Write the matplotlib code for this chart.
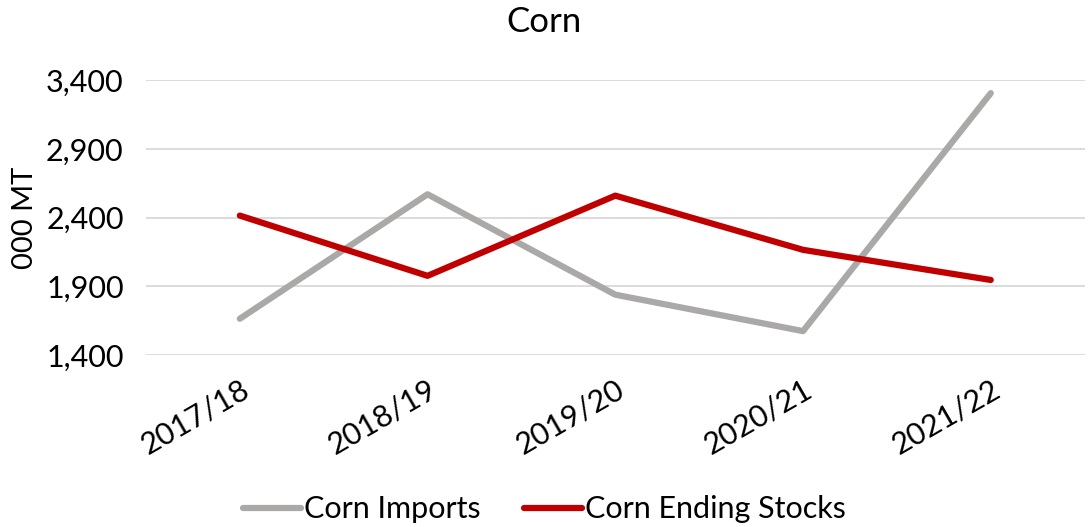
import matplotlib
matplotlib.use("Agg")
import matplotlib.pyplot as plt

plt.rcParams['font.family'] = ['Lato', 'DejaVu Sans']

years = ["2017/18", "2018/19", "2019/20", "2020/21", "2021/22"]
corn_imports = [1665, 2570, 1840, 1575, 3305]
corn_ending_stocks = [2415, 1977, 2560, 2166, 1947]
yticks = [1400, 1900, 2400, 2900, 3400]

fig = plt.figure(figsize=(10.89, 5.27), dpi=100)
ax = fig.add_axes([0.134, 0.326, 0.862, 0.522])

x = list(range(len(years)))
ax.plot(x, corn_imports, color="#ABA8A8", lw=4.5, solid_capstyle="round", solid_joinstyle="round", label="Corn Imports")
ax.plot(x, corn_ending_stocks, color="#C00000", lw=4.5, solid_capstyle="round", solid_joinstyle="round", label="Corn Ending Stocks")

ax.set_xlim(-0.5, len(years) - 0.5)
ax.set_ylim(1400, 3400)
ax.set_yticks(yticks)
ax.set_yticklabels([f"{v:,}" for v in yticks], fontsize=22)
ax.set_xticks(x)
ax.set_xticklabels(years, fontsize=22, rotation=30, ha="right", rotation_mode="anchor")
ax.tick_params(axis="both", length=0)
ax.tick_params(axis="y", pad=16)
ax.tick_params(axis="x", pad=14)
ax.grid(axis="y", color="#D9D9D9", lw=1.3)
ax.set_axisbelow(True)
for s in ax.spines.values():
    s.set_visible(False)
ax.set_ylabel("000 MT", fontsize=21, labelpad=6)
fig.text(0.5, 0.958, "Corn", fontsize=25, ha="center", va="center")

fig.legend(loc="lower center", bbox_to_anchor=(0.5, -0.045), ncol=2, frameon=False,
           fontsize=22, handlelength=1.9, columnspacing=1.4, handletextpad=0.1)

fig.savefig("out.png", dpi=100)
